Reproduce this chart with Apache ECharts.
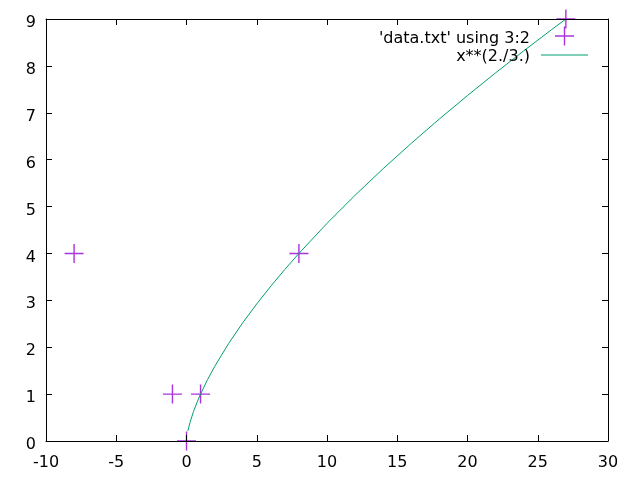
<!DOCTYPE html>
<html>
<head>
<meta charset="utf-8">
<script src="https://cdn.jsdelivr.net/npm/echarts@6/dist/echarts.min.js"></script>
<style>
html,body{margin:0;padding:0;background:#fff;}
#c{width:640px;height:480px;}
</style>
</head>
<body>
<div id="c"></div>
<script>
// Data points ('data.txt' using 3:2)
const pointX = [-8, -1, 0, 1, 8, 27];
const pointY = [4, 1, 0, 1, 4, 9];
// Sampled curve x**(2./3.)
const curveX = [0.1, 0.25, 0.5, 0.75, 1, 1.5, 2, 3, 4, 5, 6, 7, 8, 10, 12, 14, 16, 18, 20, 22, 24, 26, 27];
const curveY = [0.2154, 0.3969, 0.63, 0.8255, 1, 1.3104, 1.5874, 2.0801, 2.5198, 2.924, 3.3019, 3.6593, 4, 4.6416, 5.2415, 5.8088, 6.3496, 6.8683, 7.3681, 7.8514, 8.3203, 8.7764, 9];
const xTicks = {min: -10, max: 30, interval: 5};
const yTicks = {min: 0, max: 9, interval: 1};
const seriesNames = ["'data.txt' using 3:2", "x**(2./3.)"];

const plusPath = 'path://M8.8,0H10.2V8.8H19V10.2H10.2V19H8.8V10.2H0V8.8H8.8Z';
const plusLegendPath = 'path://M0,0L0,0M47,24L47,24M22.8,0H24.2V8.8H33V10.2H24.2V19H22.8V10.2H14V8.8H22.8Z';
const lineLegendPath = 'path://M0,0L0,0M47,24L47,24M0,9.5H47V10.5H0Z';
const FONT = 'DejaVu Sans';

const chart = echarts.init(document.getElementById('c'), null, {renderer: 'canvas'});
const axisLine = {show: true, onZero: false, lineStyle: {color: '#000', width: 1}};
const tick = {show: true, inside: true, length: 6, lineStyle: {color: '#000', width: 1}};
const legendText = {color: '#000', fontFamily: FONT, fontSize: 16, padding: [0, 6, 0, 0]};
chart.setOption({
  animation: false,
  backgroundColor: '#fff',
  grid: {left: 46, right: 32, top: 19, bottom: 39, containLabel: false},
  xAxis: [
    {type: 'value', min: xTicks.min, max: xTicks.max, interval: xTicks.interval, position: 'bottom', z: 10,
     axisLine: axisLine, axisTick: tick, splitLine: {show: false},
     axisLabel: {margin: 14, color: '#000', fontFamily: FONT, fontSize: 16}},
    {type: 'value', min: xTicks.min, max: xTicks.max, interval: xTicks.interval, position: 'top', z: 10,
     axisLine: axisLine, axisTick: tick, splitLine: {show: false}, axisLabel: {show: false}}
  ],
  yAxis: [
    {type: 'value', min: yTicks.min, max: yTicks.max, interval: yTicks.interval, position: 'left', z: 10,
     axisLine: axisLine, axisTick: tick, splitLine: {show: false},
     axisLabel: {margin: 10, color: '#000', fontFamily: FONT, fontSize: 16, verticalAlign: 'top', lineHeight: 8}},
    {type: 'value', min: yTicks.min, max: yTicks.max, interval: yTicks.interval, position: 'right', z: 10,
     axisLine: axisLine, axisTick: tick, splitLine: {show: false}, axisLabel: {show: false}}
  ],
  legend: [
    {data: [{name: seriesNames[0], icon: plusLegendPath}], orient: 'vertical', align: 'right', right: 52, top: 26.5,
     padding: 0, itemWidth: 47, itemHeight: 24, symbolKeepAspect: false, selectedMode: false,
     itemStyle: {color: '#9400d3'}, textStyle: legendText},
    {data: [{name: seriesNames[1], icon: lineLegendPath}], orient: 'vertical', align: 'right', right: 52, top: 45,
     padding: 0, itemWidth: 47, itemHeight: 24, symbolKeepAspect: false, selectedMode: false,
     itemStyle: {color: '#009e73'}, lineStyle: {width: 0}, textStyle: legendText}
  ],
  series: [
    {name: seriesNames[0], type: 'scatter', symbol: plusPath, symbolSize: 19, clip: false,
     itemStyle: {color: '#9400d3'},
     data: pointX.map((x, i) => [x, pointY[i]])},
    {name: seriesNames[1], type: 'line', symbol: 'none', showSymbol: false, clip: true,
     lineStyle: {color: '#009e73', width: 1}, itemStyle: {color: '#009e73'},
     data: curveX.map((x, i) => [x, curveY[i]])}
  ]
});
</script>
</body>
</html>
